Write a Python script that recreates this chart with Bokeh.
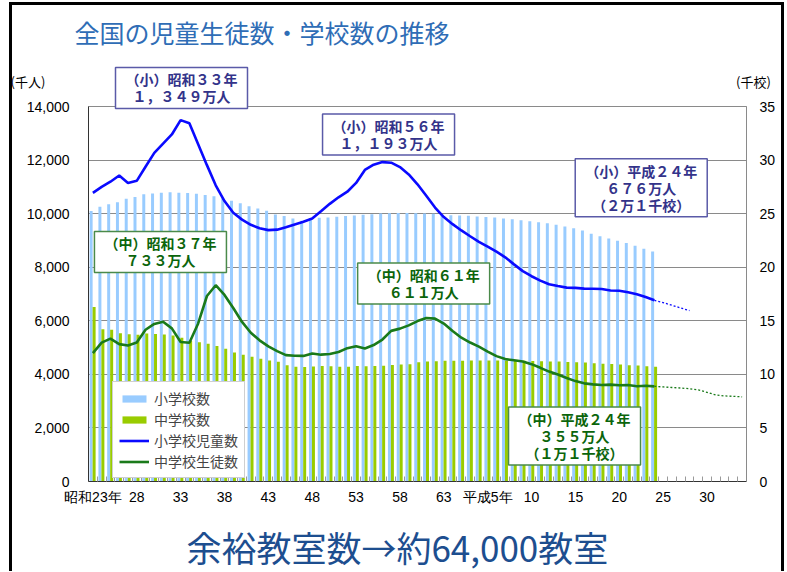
from bokeh.plotting import figure
from bokeh.models import (Range1d, LinearAxis, FixedTicker, NumeralTickFormatter,
                          Label, Legend, LegendItem, ColumnDataSource)
from bokeh.transform import dodge
from bokeh.layouts import column
from bokeh.embed import file_html
from bokeh.resources import INLINE

# ---------------- data ----------------
years = list(range(1948, 2013))

# 小学校児童数 (千人)
elem_students = [10775, 11000, 11191, 11423, 11148, 11225, 11750, 12267, 12616, 12956,
                 13492, 13375, 12591, 11811, 11057, 10471, 10031, 9776, 9584, 9453,
                 9384, 9403, 9493, 9596, 9696, 9816, 10089, 10365, 10610, 10819,
                 11146, 11630, 11827, 11925, 11902, 11739, 11465, 11095, 10665, 10226,
                 9873, 9607, 9373, 9157, 8947, 8769, 8583, 8370, 8106, 7855,
                 7664, 7500, 7366, 7297, 7239, 7227, 7201, 7197, 7188, 7133,
                 7122, 7064, 6993, 6887, 6765]

# 中学校生徒数 (千人)
jh_students = [4793, 5186, 5333, 5129, 5076, 5188, 5664, 5884, 5963, 5718,
               5210, 5180, 5900, 6925, 7328, 6964, 6476, 5957, 5555, 5271,
               5044, 4865, 4717, 4694, 4689, 4779, 4735, 4762, 4834, 4978,
               5048, 4966, 5094, 5300, 5623, 5707, 5829, 5990, 6106, 6081,
               5896, 5620, 5369, 5188, 5037, 4850, 4681, 4570, 4528, 4481,
               4381, 4244, 4104, 3992, 3863, 3748, 3664, 3626, 3602, 3615,
               3592, 3600, 3558, 3574, 3553]

# 小学校数 (千校)
elem_schools = [25.24, 25.64, 25.88, 26.06, 26.38, 26.56, 26.80, 26.88, 26.96, 26.99,
                26.96, 26.92, 26.86, 26.74, 26.62, 26.42, 26.21, 25.98, 25.69, 25.49,
                25.26, 24.92, 24.79, 24.54, 24.33, 24.59, 24.61, 24.65, 24.72, 24.78,
                24.83, 24.90, 24.95, 25.01, 25.04, 25.05, 25.06, 25.04, 25.02, 24.98,
                24.90, 24.85, 24.83, 24.80, 24.73, 24.68, 24.64, 24.55, 24.48, 24.38,
                24.30, 24.19, 24.11, 23.96, 23.81, 23.63, 23.42, 23.12, 22.88, 22.69,
                22.48, 22.26, 22.00, 21.72, 21.46]

# 中学校数 (千校)
jh_schools = [16.29, 14.20, 14.17, 13.84, 13.75, 13.69, 13.82, 13.77, 13.72, 13.62,
              13.41, 13.14, 12.99, 12.85, 12.65, 12.38, 12.03, 11.82, 11.65, 11.46,
              11.30, 11.17, 10.84, 10.70, 10.69, 10.73, 10.79, 10.75, 10.72, 10.72,
              10.78, 10.75, 10.78, 10.81, 10.88, 10.92, 10.95, 11.13, 11.19, 11.23,
              11.27, 11.26, 11.28, 11.29, 11.29, 11.29, 11.29, 11.27, 11.27, 11.26,
              11.24, 11.22, 11.21, 11.19, 11.16, 11.13, 11.10, 11.04, 10.99, 10.96,
              10.92, 10.86, 10.82, 10.75, 10.70]

# 推計 (点線)
elem_proj_years = [2012, 2013, 2014, 2015, 2016]
elem_proj = [6765, 6680, 6580, 6480, 6380]
jh_proj_years = [2012, 2013, 2014, 2015, 2016, 2017, 2018, 2019, 2020, 2021, 2022]
jh_proj = [3553, 3530, 3510, 3490, 3465, 3420, 3330, 3230, 3195, 3180, 3160]

# x-axis tick labels
label_years = [1948, 1953, 1958, 1963, 1968, 1973, 1978, 1983, 1988, 1993, 1998, 2003, 2008, 2013, 2018]
label_texts = ["昭和23年", "28", "33", "38", "43", "48", "53", "58", "63", "平成5年",
               "10", "15", "20", "25", "30"]
first_year, last_year = 1948, 2022

# ---------------- figure ----------------
JP = "Noto Sans CJK JP"
p = figure(width=769, height=580, output_backend="svg", toolbar_location=None,
           x_range=Range1d(first_year - 0.5, last_year + 0.5), y_range=Range1d(0, 14000),
           min_border_left=76, min_border_right=35, min_border_top=102, min_border_bottom=90)
p.styles = {"margin-top": "-14px"}
p.extra_y_ranges = {"schools": Range1d(0, 35)}
p.outline_line_color = "#8a8a8a"
p.xgrid.visible = False
p.ygrid.grid_line_color = "#8a8a8a"
p.ygrid.ticker = FixedTicker(ticks=list(range(0, 14001, 2000)))
p.background_fill_color = "white"
p.border_fill_alpha = 0

src = ColumnDataSource(dict(year=years, es=elem_schools, js=jh_schools,
                            est=elem_students, jst=jh_students))

r_eb = p.vbar(x=dodge("year", -0.2, range=p.x_range), top="es", width=0.34, source=src,
              y_range_name="schools", fill_color="#99ccff", line_color=None)
r_jb = p.vbar(x=dodge("year", 0.14, range=p.x_range), top="js", width=0.34, source=src,
              y_range_name="schools", fill_color="#99cc00", line_color=None)

r_el = p.line("year", "est", source=src, line_color="#0a0aff", line_width=2.6)
r_jl = p.line("year", "jst", source=src, line_color="#1a7a1a", line_width=2.6)
p.line(elem_proj_years, elem_proj, line_color="#0a0aff", line_width=1.3, line_dash="2 2")
p.line(jh_proj_years, jh_proj, line_color="#1a7a1a", line_width=1.3, line_dash="2 2")

# axes
xa = p.xaxis[0]
xa.ticker = FixedTicker(ticks=label_years,
                        minor_ticks=[y + 0.5 for y in range(first_year - 1, last_year + 1)])
xa.major_label_overrides = {y: t for y, t in zip(label_years, label_texts)}
xa.major_tick_out = 0
xa.major_tick_in = 0
xa.minor_tick_in = 5
xa.minor_tick_out = 0
xa.minor_tick_line_color = "#9a9a9a"
xa.axis_line_color = "#333333"
xa.major_label_text_font_size = "14px"
xa.major_label_text_color = "black"
xa.major_label_standoff = 7

ya = p.yaxis[0]
ya.ticker = FixedTicker(ticks=list(range(0, 14001, 2000)))
ya.formatter = NumeralTickFormatter(format="0,0")
ya.major_tick_out = 0
ya.major_tick_in = 0
ya.minor_tick_out = 0
ya.minor_tick_in = 0
ya.axis_line_color = "#333333"
ya.major_label_text_font_size = "14px"
ya.major_label_text_color = "black"
ya.major_label_standoff = 19

ra = LinearAxis(y_range_name="schools", ticker=FixedTicker(ticks=list(range(0, 36, 5))))
ra.major_tick_out = 0
ra.major_tick_in = 0
ra.minor_tick_out = 0
ra.minor_tick_in = 0
ra.axis_line_color = "#8a8a8a"
ra.major_label_text_font_size = "14px"
ra.major_label_text_color = "black"
ra.major_label_standoff = 13
p.add_layout(ra, "right")

# legend
legend = Legend(items=[LegendItem(label="小学校数", renderers=[r_eb]),
                       LegendItem(label="中学校数", renderers=[r_jb]),
                       LegendItem(label="小学校児童数", renderers=[r_el]),
                       LegendItem(label="中学校生徒数", renderers=[r_jl])],
                location=(24, 3), orientation="vertical",
                label_text_font=JP, label_text_font_size="14px",
                glyph_width=30, glyph_height=9, label_height=19, spacing=1,
                padding=6, margin=0, label_standoff=5,
                border_line_color="#a0a0a0", border_line_width=1,
                background_fill_color="white", background_fill_alpha=1)
p.add_layout(legend)

# annotation boxes
def box(x, y, text, color, border, place="center"):
    p.add_layout(Label(x=x, y=y, text=text, text_align="center", text_baseline="middle",
                       text_font=JP, text_font_style="bold", text_font_size="14px",
                       text_color=color, text_line_height=0.85,
                       background_fill_color="white", background_fill_alpha=1,
                       border_line_color=border, border_line_width=1.5,
                       padding=dict(left=10, right=10, top=2, bottom=2)), place)

BLUE_T, BLUE_B = "#33338a", "#5a5aa8"
GREEN_T, GREEN_B = "#0b650b", "#4a8a4a"
box(1958.1, 14693, "（小）昭和３３年\n１，３４９万人", BLUE_T, BLUE_B, "above")
box(1981.7, 12952, "（小）昭和５６年\n１，１９３万人", BLUE_T, BLUE_B)
box(2010.5, 10968, "（小）平成２４年\n６７６万人\n（２万１千校）", BLUE_T, BLUE_B)
box(1955.7, 8572, "（中）昭和３７年\n７３３万人", GREEN_T, GREEN_B)
box(1985.7, 7393, "（中）昭和６１年\n６１１万人", GREEN_T, GREEN_B)
box(2002.9, 1703, "（中）平成２４年\n３５５万人\n（１万１千校）", GREEN_T, GREEN_B)

# titles / unit labels (in side panels so that they are not clipped to the frame)
p.add_layout(Label(x=1945.9, y=16770, text="全国の児童生徒数・学校数の推移",
                   text_align="left", text_baseline="middle", text_font=JP,
                   text_font_size="25px", text_color="#2f6db6"), "above")
p.add_layout(Label(x=1940.6, y=14936, text="(千人)", text_align="center",
                   text_baseline="middle", text_font=JP, text_font_size="13px",
                   text_color="black"), "above")
p.add_layout(Label(x=2023.3, y=14936, text="(千校)", text_align="center",
                   text_baseline="middle", text_font=JP, text_font_size="13px",
                   text_color="black"), "above")
p.add_layout(Label(x=1982.7, y=-2414, text="余裕教室数→約64,000教室",
                   text_align="center", text_baseline="middle", text_font=JP,
                   text_font_size="35px", text_color="#1d4e8f"), "below")

layout = column(p, styles={"margin-left": "9px", "margin-top": "2px",
                           "border-top": "3px solid black",
                           "border-left": "3px solid black",
                           "border-right": "3px solid black"})

open("out.html", "w").write(file_html(layout, INLINE))
